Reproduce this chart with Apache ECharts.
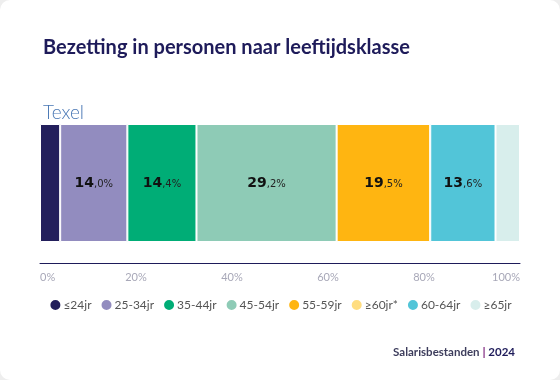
<!DOCTYPE html>
<html><head><meta charset="utf-8">
<script src="https://cdn.jsdelivr.net/npm/echarts@6/dist/echarts.min.js"></script>
<style>
html,body{margin:0;padding:0;background:#eeeeee;}
#c{width:560px;height:380px;background:#fff;border-radius:10px;overflow:hidden;}
</style></head><body>
<div id="c"></div>
<script>
var categories = ['Texel'];
var groups = ['≤24jr','25-34jr','35-44jr','45-54jr','55-59jr','≥60jr*','60-64jr','≥65jr'];
var values = [4.2, 14.0, 14.4, 29.2, 19.5, 0, 13.6, 5.1];
var colors = ['#231f5c','#928cbf','#00ad76','#8ecbb6','#ffb511','#ffdd80','#52c5d8','#d8eeec'];
var ticks = [0,20,40,60,80,100];
var F = 'Lato, "Noto Sans", sans-serif';
var FL = '"DejaVu Sans", sans-serif';

var series = groups.map(function(g,i){
  return {
    name: g, type: 'bar', stack: 'total', barWidth: '100%',
    data: [values[i]],
    itemStyle: {color: colors[i], borderColor: '#fff', borderWidth: 1},
    label: {
      show: values[i] >= 10, position: 'inside',
      formatter: function(p){
        var s = p.value.toFixed(1).split('.');
        return '{a|' + s[0] + '}{b|,' + s[1] + '%}';
      },
      rich: {
        a: {fontFamily: FL, fontSize: 14, fontWeight: 'bold', color: '#111'},
        b: {fontFamily: FL, fontSize: 10, fontWeight: 'normal', color: '#222', padding:[3,0,0,0]}
      }
    },
    emphasis: {disabled: true}
  };
});

var chart = echarts.init(document.getElementById('c'));
chart.setOption({
  animation: false,
  title: [
    {text: 'Bezetting in personen naar leeftijdsklasse', left: 38, top: 33,
     textStyle: {fontFamily: F, fontSize: 20, fontWeight: 'bold', color: '#1e1b5a'}},
    {text: categories[0], left: 38, top: 98,
     textStyle: {fontFamily: F, fontSize: 19, fontWeight: 300, color: '#4a78b5'}},
    {text: '{a|Salarisbestanden }{p||}{b| 2024}', right: 40, top: 341,
     textStyle: {rich: {
       a: {fontFamily: F, fontSize: 11.5, color: '#3d3d5c'},
       p: {fontFamily: F, fontSize: 12, color: '#7a1f7a', fontWeight: 'bold'},
       b: {fontFamily: F, fontSize: 11.5, fontWeight: 'bold', color: '#1e1b5a'}
     }}}
  ],
  legend: {
    bottom: 63, left: 'center', icon: 'circle', itemWidth: 12, itemHeight: 12, itemGap: 8,
    textStyle: {fontFamily: F, fontSize: 12, color: '#555', padding: [0,0,0,-3]},
    data: groups
  },
  grid: {left: 40, right: 40, top: 124, bottom: 138},
  xAxis: {
    type: 'value', min: 0, max: 100, interval: 20, offset: 21,
    axisLine: {show: true, lineStyle: {color: '#1e1b5a', width: 1}},
    axisTick: {show: false}, splitLine: {show: false},
    axisLabel: {formatter: function(v){return ticks.indexOf(v)>=0 ? v+'%' : '';},
      color: '#a8a8b8', fontFamily: F, fontSize: 11, margin: 9,
      alignMinLabel: 'left', alignMaxLabel: 'right'}
  },
  yAxis: {type: 'category', data: categories, show: false},
  series: series
});
</script>
</body></html>
